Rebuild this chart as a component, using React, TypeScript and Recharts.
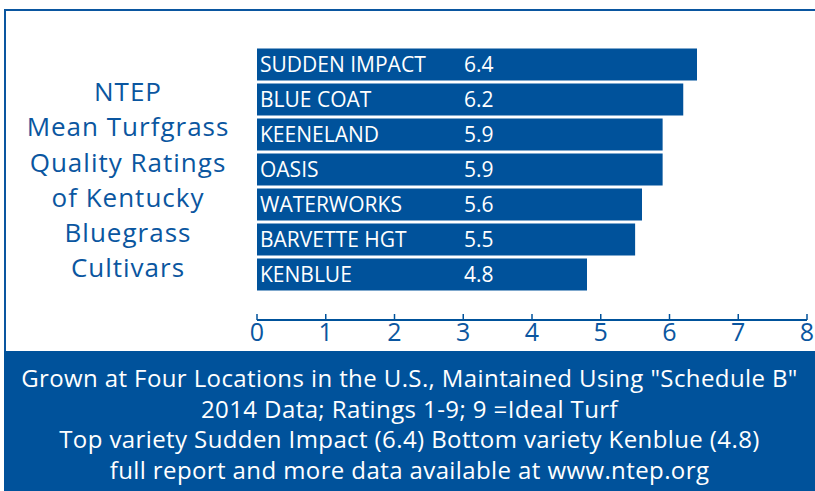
import React from "react";
import { BarChart, Bar, XAxis, YAxis, LabelList } from "recharts";

const categories = ["SUDDEN IMPACT", "BLUE COAT", "KEENELAND", "OASIS", "WATERWORKS", "BARVETTE HGT", "KENBLUE"];
const ratings = [6.4, 6.2, 5.9, 5.9, 5.6, 5.5, 4.8];
const xTicks = [0, 1, 2, 3, 4, 5, 6, 7, 8];
const titleLines = ["NTEP", "Mean Turfgrass", "Quality Ratings", "of Kentucky", "Bluegrass", "Cultivars"];
const footerLines = [
  'Grown at Four Locations in the U.S., Maintained Using "Schedule B"',
  "2014 Data; Ratings 1-9; 9 =Ideal Turf",
  "Top variety Sudden Impact (6.4) Bottom variety Kenblue (4.8)",
  "full report and more data available at www.ntep.org",
];

const data = categories.map((name, i) => ({ name, value: ratings[i] }));

const BLUE = "#00529b";
const TEXT_BLUE = "#0a56a0";
const FONT = "'Open Sans', sans-serif";

const BarText = (props: any) => {
  const { x, y, height, index, value } = props;
  const cy = y + height / 2;
  return (
    <g>
      <text x={x + 3} y={cy} dy="0.36em" fill="#fff" fontSize={21} fontFamily={FONT}>
        {categories[index]}
      </text>
      <text x={x + 207} y={cy} dy="0.36em" fill="#fff" fontSize={21} fontFamily={FONT}>
        {Number(value).toFixed(1)}
      </text>
    </g>
  );
};

export default function App() {
  return (
    <div style={{ position: "absolute", left: 0, top: 0, width: 815, height: 491, overflow: "hidden", background: "#fff" }}>
      <div
        style={{
          position: "absolute",
          left: 4,
          top: 9,
          width: 830,
          height: 350,
          border: `2px solid ${TEXT_BLUE}`,
          boxSizing: "border-box",
        }}
      />
      <div
        style={{
          position: "absolute",
          left: 0,
          top: 74,
          width: 256,
          textAlign: "center",
          color: TEXT_BLUE,
          fontFamily: FONT,
          fontSize: 26,
          letterSpacing: 1,
          lineHeight: "35.3px",
        }}
      >
        {titleLines.map((l, i) => (
          <div key={i}>{l}</div>
        ))}
      </div>
      <div style={{ position: "absolute", left: 0, top: 0 }}>
        <BarChart
          width={815}
          height={491}
          data={data}
          layout="vertical"
          margin={{ top: 16, right: 8, bottom: 131, left: 257 }}
          barSize={32}
        >
          <XAxis
            type="number"
            domain={[0, 8]}
            ticks={xTicks}
            interval={0}
            axisLine={{ stroke: BLUE, strokeWidth: 2 }}
            tickLine={{ stroke: BLUE, strokeWidth: 1.5 }}
            tickSize={-6}
            tickMargin={9}
            height={40}
            tick={{ fill: TEXT_BLUE, fontSize: 25, fontFamily: FONT }}
          />
          <YAxis
            type="category"
            dataKey="name"
            width={0}
            tick={false}
            tickLine={false}
            axisLine={{ stroke: BLUE, strokeWidth: 2 }}
            padding={{ top: 30.5, bottom: 28.5 }}
          />
          <Bar dataKey="value" fill={BLUE} isAnimationActive={false}>
            <LabelList dataKey="value" content={<BarText />} />
          </Bar>
        </BarChart>
      </div>
      <div
        style={{
          position: "absolute",
          left: 4,
          top: 351,
          width: 811,
          height: 140,
          background: BLUE,
          color: "#fff",
          fontFamily: FONT,
          fontSize: 24,
          letterSpacing: 0.4,
          lineHeight: "30.5px",
          textAlign: "center",
          paddingTop: 12,
          boxSizing: "border-box",
        }}
      >
        {footerLines.map((l, i) => (
          <div key={i} style={{ whiteSpace: "nowrap" }}>{l}</div>
        ))}
      </div>
    </div>
  );
}
